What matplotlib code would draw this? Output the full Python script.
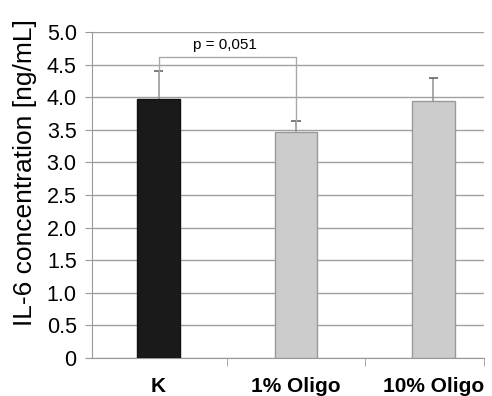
import matplotlib.pyplot as plt
import numpy as np

plt.rcParams['font.family'] = ['Liberation Sans', 'DejaVu Sans']

groups = ['K', '1% Oligo', '10% Oligo']
means = np.array([3.97, 3.46, 3.94])
sd = np.array([0.43, 0.17, 0.35])
colors = ['#1a1a1a', '#cccccc', '#cccccc']
edges = ['#111111', '#999999', '#999999']
p_text = 'p = 0,051'
bracket_y = 4.62

fig = plt.figure(figsize=(4.92, 3.96), dpi=100)
ax = fig.add_axes([0.187, 0.096, 0.797, 0.823])

x = np.arange(len(groups))
ax.bar(x, means, width=0.31, color=colors, edgecolor=edges, linewidth=1.0, zorder=3)

# upper error bars only
ax.vlines(x, means, means + sd, color='#999999', lw=1.2, zorder=2)
ax.hlines(means + sd, x - 0.035, x + 0.035, color='#666666', lw=1.2, zorder=2)

# significance bracket between K and 1% Oligo
top_k = means[0] + sd[0]
top_1 = means[1] + sd[1]
ax.plot([0, 0, 1, 1], [top_k, bracket_y, bracket_y, top_1], color='#aaaaaa', lw=1.0, zorder=4)
ax.text(0.48, bracket_y + 0.08, p_text, ha='center', va='bottom', fontsize=11)

ax.set_ylim(0, 5.0)
ax.set_xlim(-0.485, 2.37)
ax.set_yticks(np.arange(0, 5.01, 0.5))
ax.set_yticklabels(['0'] + [f'{v:.1f}' for v in np.arange(0.5, 5.01, 0.5)], fontsize=15.5)
ax.yaxis.grid(True, color='#a0a0a0', lw=1.0)
ax.set_axisbelow(True)

ax.set_xticks(x)
ax.set_xticklabels(groups, fontsize=15, fontweight='bold')
ax.tick_params(axis='x', length=0, pad=14)
ax.set_xticks([0.5, 1.5, 2.37], minor=True)
ax.tick_params(axis='x', which='minor', length=6, color='#999999', direction='out')
ax.tick_params(axis='y', length=5, color='#999999', direction='out', pad=6)

for side in ['top', 'right']:
    ax.spines[side].set_visible(False)
for side in ['left', 'bottom']:
    ax.spines[side].set_color('#999999')

ax.set_ylabel('IL-6 concentration [ng/mL]', fontsize=19)
ax.yaxis.set_label_coords(-0.14, 0.57)

fig.savefig('out.png', dpi=100)
